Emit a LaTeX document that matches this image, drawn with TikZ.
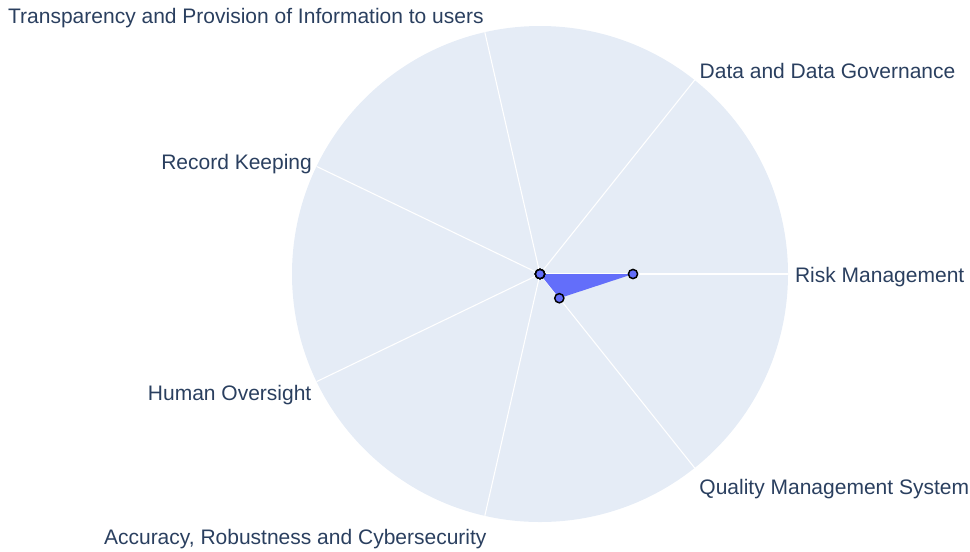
\documentclass[tikz,border=0pt]{standalone}
\usepackage{fontspec}
\setmainfont{Liberation Sans}
\usepackage{tikz}

\definecolor{polarbg}{RGB}{229,236,246}
\definecolor{tracefill}{RGB}{99,110,250}
\definecolor{labeltext}{RGB}{42,63,95}

\begin{document}
\begin{tikzpicture}[x=0.75pt,y=0.75pt,yscale=-1,xscale=1,
  axislabel/.style={inner sep=0pt,text=labeltext,font=\fontsize{15.75}{18}\selectfont},
  spoke/.style={draw=white,line width=0.8pt},
  datapoint/.style={draw=black,fill=tracefill,line width=1.1pt}]
\useasboundingbox (0,0) rectangle (970,551);

%Shape: Circle (polar background)
\fill [polarbg] (540,274) circle (248);

%Straight Lines (angular grid)
\foreach \i in {0,...,6}
  \draw [spoke] (540,274) -- ({540+248*cos(360/7*\i)},{274-248*sin(360/7*\i)});

% data points
\coordinate (c) at (540,274);
\coordinate (risk) at (633,274);
\coordinate (qms) at (559.3,298.2);

%Shape: Polygon (trace fill)
\fill [tracefill] (risk) -- (c) -- (qms) -- cycle;

%Shape: Circle (markers)
\foreach \p in {risk,c,c,c,c,c,qms}
  \draw [datapoint] (\p) circle (4.6);

% Text Node
\node [axislabel,anchor=base west] (riskmgmt) at (794.8,282) {Risk Management};
% Text Node
\node [axislabel,anchor=base west] (datagov) at (699.4,78) {Data and Data Governance};
% Text Node
\node [axislabel,anchor=base west] (transp) at (7.9,23.5) {Transparency and Provision of Information to users};
% Text Node
\node [axislabel,anchor=base west] (record) at (161,169.5) {Record Keeping};
% Text Node
\node [axislabel,anchor=base west] (human) at (147.7,400) {Human Oversight};
% Text Node
\node [axislabel,anchor=base west] (accuracy) at (103.8,544) {Accuracy, Robustness and Cybersecurity};
% Text Node
\node [axislabel,anchor=base west] (quality) at (699.2,494) {Quality Management System};

\end{tikzpicture}
\end{document}
